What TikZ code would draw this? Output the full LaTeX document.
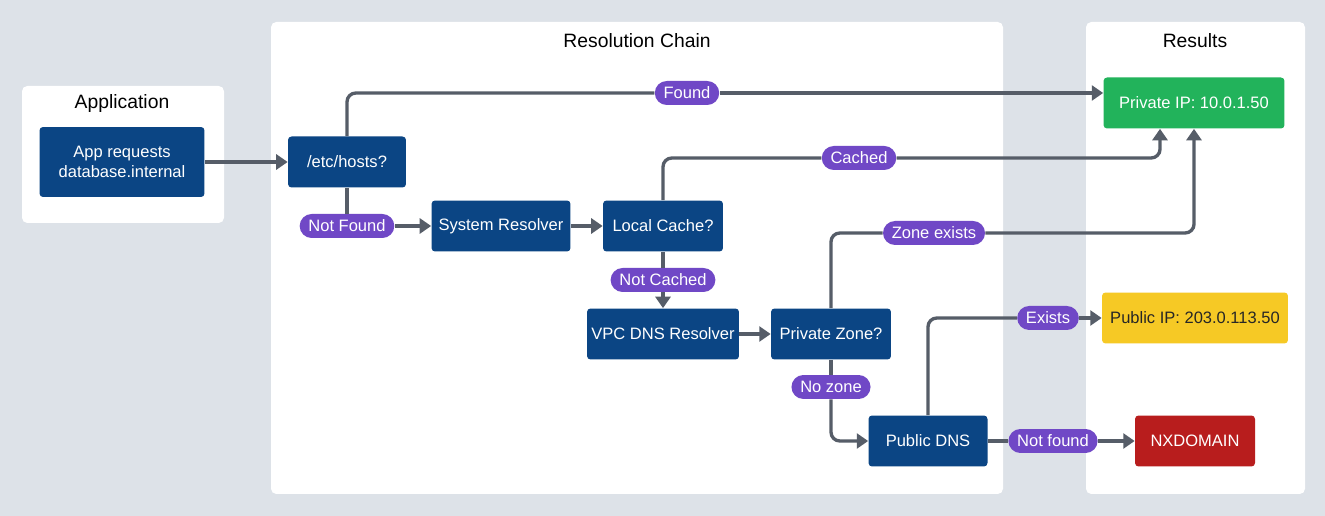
\documentclass[tikz,border=0pt]{standalone}
\usepackage{fontspec}
\setmainfont{Liberation Sans}
\usepackage{tikz}
\usetikzlibrary{arrows.meta}

\definecolor{fondo}{HTML}{DDE2E8}
\definecolor{azul}{HTML}{0B4584}
\definecolor{morado}{HTML}{7048C6}
\definecolor{gris}{HTML}{565D68}
\definecolor{verde}{HTML}{22B35B}
\definecolor{amarillo}{HTML}{F6C925}
\definecolor{rojo}{HTML}{B81D1D}

\tikzset{
  paso/.style={fill=azul, text=white, rounded corners=2pt, minimum height=1.02cm,
    inner sep=2pt, align=center, font=\fontsize{9.4}{11.5}\selectfont},
  etiqueta/.style={fill=morado, text=white, rounded corners=0.24cm, minimum height=0.48cm,
    inner xsep=5pt, inner ysep=1pt, font=\fontsize{9.4}{11}\selectfont},
  titulo/.style={font=\fontsize{11}{13}\selectfont},
  panel/.style={fill=white, rounded corners=3pt},
  tramo/.style={draw=gris, line width=1.9pt, rounded corners=5pt},
  flecha/.style={tramo, -{Triangle[length=6.5pt,width=8.5pt]}},
}

\begin{document}
\begin{tikzpicture}[x=0.02cm, y=-0.02cm]

% Fondo y paneles
\fill[fondo] (0,0) rectangle (1325,516);
\path[use as bounding box] (0,0) rectangle (1325,516);
\fill[panel] (22,86) rectangle (224,223);
\fill[panel] (271,22) rectangle (1003,494);
\fill[panel] (1086,22) rectangle (1305,494);

% Titulos
\node[titulo] (tapp) at (122,104) {Application};
\node[titulo] (tchain) at (637,41) {Resolution Chain};
\node[titulo] (tres) at (1195,41) {Results};

% Pasos
\node[paso, minimum width=3.3cm, minimum height=1.4cm] (app) at (122,162) {App requests\\database.internal};
\node[paso, minimum width=2.36cm] (hosts) at (347,162) {/etc/hosts?};
\node[paso, minimum width=2.78cm] (sysres) at (501,226) {System Resolver};
\node[paso, minimum width=2.4cm] (cache) at (663,226) {Local Cache?};
\node[paso, minimum width=3.04cm] (vpc) at (663,334) {VPC DNS Resolver};
\node[paso, minimum width=2.4cm] (pzone) at (831,334) {Private Zone?};
\node[paso, minimum width=2.38cm] (pdns) at (928,441) {Public DNS};

% Resultados
\node[paso, fill=verde, text=white, minimum width=3.62cm] (privip) at (1194,103) {Private IP: 10.0.1.50};
\node[paso, fill=amarillo, text=black!85, minimum width=3.72cm] (pubip) at (1195,318) {Public IP: 203.0.113.50};
\node[paso, fill=rojo, minimum width=2.4cm] (nx) at (1195,441) {NXDOMAIN};

% Etiquetas
\node[etiqueta] (lfound) at (687,93) {Found};
\node[etiqueta] (lnf) at (347,226) {Not Found};
\node[etiqueta] (lcached) at (859,158) {Cached};
\node[etiqueta] (lnc) at (663,280) {Not Cached};
\node[etiqueta] (lzone) at (934,233) {Zone exists};
\node[etiqueta] (lnozone) at (831,387) {No zone};
\node[etiqueta] (lexists) at (1048,318) {Exists};
\node[etiqueta] (lnf2) at (1053,441) {Not found};

% Conexiones
\draw[flecha] (app) -- (hosts);
\draw[tramo] (hosts.north) |- (lfound.west);
\draw[flecha] (lfound.east) -- (lfound.east -| privip.west);
\draw[tramo] (hosts.south) -- (lnf.north);
\draw[flecha] (lnf.east) -- (sysres.west);
\draw[flecha] (sysres) -- (cache);
\draw[tramo] (cache.north) |- (lcached.west);
\draw[flecha] (lcached.east) -| ([xshift=-0.68cm]privip.south);
\draw[tramo] (cache.south) -- (lnc.north);
\draw[flecha] (lnc.south) -- (vpc.north);
\draw[flecha] (vpc) -- (pzone);
\draw[tramo] (pzone.north) |- (lzone.west);
\draw[flecha] (lzone.east) -| (privip.south);
\draw[tramo] (pzone.south) -- (lnozone.north);
\draw[flecha] (lnozone.south) |- (pdns.west);
\draw[tramo] (pdns.north) |- (lexists.west);
\draw[flecha] (lexists.east) -- (pubip.west);
\draw[tramo] (pdns.east) -- (lnf2.west);
\draw[flecha] (lnf2.east) -- (nx.west);

\end{tikzpicture}
\end{document}
